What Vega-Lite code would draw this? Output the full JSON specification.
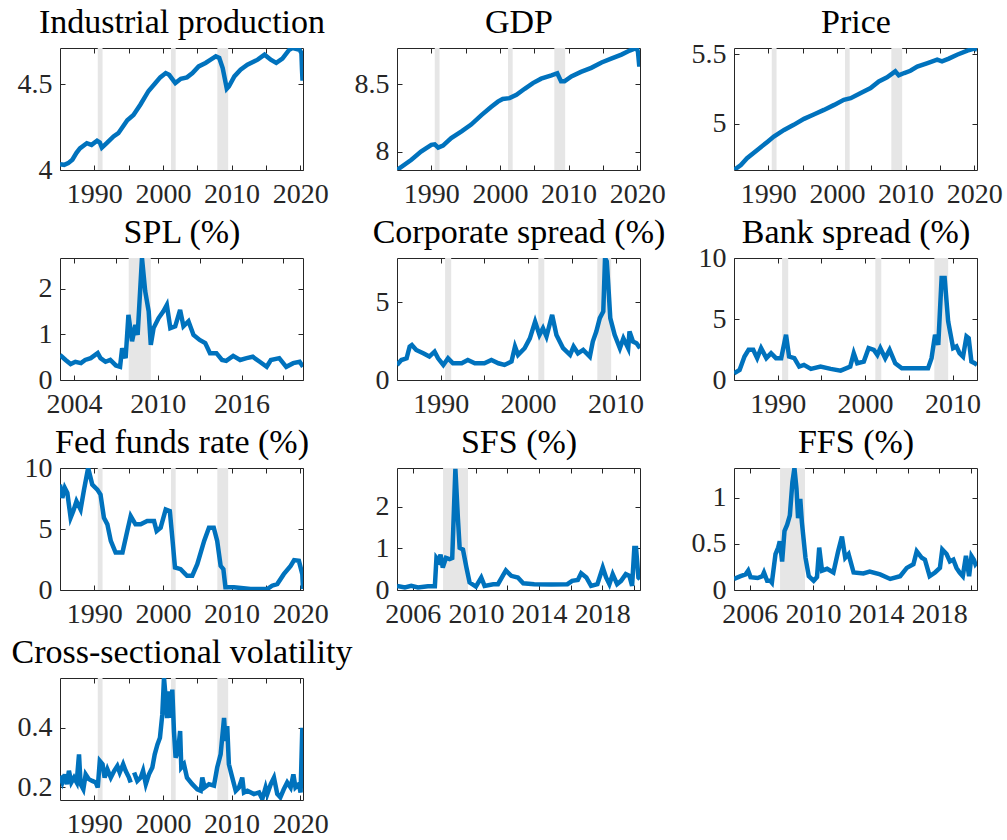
{
"$schema": "https://vega.github.io/schema/vega-lite/v6.json",
"background": "white",
"padding": {"left": 10, "top": 5, "right": 5, "bottom": 0},
"config": {
 "view": {"stroke": "#262626", "strokeWidth": 1},
 "axis": {"domain": false, "grid": false, "ticks": true, "tickSize": -5, "tickColor": "#262626", "tickWidth": 1, "labelFont": "Liberation Serif", "labelFontSize": 28, "labelColor": "#262626", "title": null, "labelFlush": false, "labelOverlap": false, "zindex": 1},
 "axisX": {"labelPadding": 15},
 "axisY": {"labelPadding": 13},
 "axisTop": {"titleFont": "Liberation Serif", "titleFontSize": 34, "titleFontWeight": "normal", "titleColor": "#000000", "titleBaseline": "alphabetic", "titlePadding": 15, "titleLimit": 1000},
 "line": {"color": "#0072BD", "strokeWidth": 4.5},
 "rect": {"color": "#E6E6E6"}
},
"datasets": {
 "rec": [{"start": 1990.5, "end": 1991.2}, {"start": 2001.17, "end": 2001.85}, {"start": 2007.92, "end": 2009.5}],
 "ip": [{"x":1985,"y":4.033},{"x":1985.6,"y":4.03},{"x":1986.2,"y":4.04},{"x":1986.8,"y":4.06},{"x":1987.4,"y":4.1},{"x":1987.9,"y":4.126},{"x":1988.9,"y":4.156},{"x":1989.6,"y":4.146},{"x":1990.4,"y":4.17},{"x":1990.8,"y":4.16},{"x":1991.1,"y":4.13},{"x":1991.8,"y":4.156},{"x":1992.8,"y":4.195},{"x":1993.5,"y":4.214},{"x":1994.8,"y":4.29},{"x":1995.7,"y":4.32},{"x":1996.7,"y":4.38},{"x":1997.9,"y":4.46},{"x":1998.9,"y":4.506},{"x":1999.6,"y":4.539},{"x":2000.4,"y":4.564},{"x":2000.9,"y":4.554},{"x":2001.8,"y":4.506},{"x":2002.6,"y":4.531},{"x":2003.5,"y":4.539},{"x":2004.3,"y":4.564},{"x":2005.2,"y":4.603},{"x":2006.2,"y":4.623},{"x":2006.95,"y":4.642},{"x":2007.7,"y":4.661},{"x":2008.2,"y":4.652},{"x":2008.7,"y":4.593},{"x":2009.3,"y":4.473},{"x":2009.6,"y":4.486},{"x":2010.4,"y":4.545},{"x":2011.3,"y":4.584},{"x":2012.3,"y":4.613},{"x":2013.8,"y":4.642},{"x":2014.8,"y":4.671},{"x":2015.7,"y":4.642},{"x":2016.5,"y":4.623},{"x":2017.4,"y":4.648},{"x":2018.4,"y":4.7},{"x":2018.9,"y":4.71},{"x":2019.9,"y":4.7},{"x":2020.17,"y":4.68},{"x":2020.25,"y":4.59},{"x":2020.33,"y":4.52},{"x":2020.4,"y":4.56}],
 "gdp": [{"x":1985,"y":7.864},{"x":1987.1,"y":7.94},{"x":1988.5,"y":8.0},{"x":1990.0,"y":8.05},{"x":1990.5,"y":8.054},{"x":1991.0,"y":8.03},{"x":1991.7,"y":8.045},{"x":1992.9,"y":8.1},{"x":1994.4,"y":8.15},{"x":1995.8,"y":8.2},{"x":1997.3,"y":8.27},{"x":1998.7,"y":8.33},{"x":1999.7,"y":8.37},{"x":2000.4,"y":8.39},{"x":2001.4,"y":8.396},{"x":2002.4,"y":8.42},{"x":2003.6,"y":8.465},{"x":2004.8,"y":8.507},{"x":2006.0,"y":8.54},{"x":2007.5,"y":8.564},{"x":2008.35,"y":8.58},{"x":2008.9,"y":8.52},{"x":2009.4,"y":8.52},{"x":2010.4,"y":8.557},{"x":2011.8,"y":8.59},{"x":2013.3,"y":8.62},{"x":2014.8,"y":8.66},{"x":2016.2,"y":8.688},{"x":2017.7,"y":8.718},{"x":2018.9,"y":8.748},{"x":2019.9,"y":8.767},{"x":2020.1,"y":8.74},{"x":2020.3,"y":8.63},{"x":2020.4,"y":8.69}],
 "price": [{"x":1985,"y":4.67},{"x":1986.0,"y":4.706},{"x":1986.9,"y":4.754},{"x":1988.4,"y":4.813},{"x":1989.9,"y":4.873},{"x":1990.8,"y":4.909},{"x":1992.3,"y":4.957},{"x":1993.7,"y":4.993},{"x":1995.2,"y":5.036},{"x":1996.7,"y":5.069},{"x":1998.1,"y":5.1},{"x":1999.6,"y":5.136},{"x":2001.0,"y":5.172},{"x":2002.0,"y":5.184},{"x":2003.4,"y":5.22},{"x":2004.9,"y":5.256},{"x":2006.1,"y":5.304},{"x":2007.3,"y":5.333},{"x":2008.5,"y":5.376},{"x":2009.0,"y":5.347},{"x":2009.8,"y":5.364},{"x":2010.7,"y":5.38},{"x":2011.7,"y":5.41},{"x":2013.2,"y":5.435},{"x":2014.6,"y":5.459},{"x":2015.3,"y":5.447},{"x":2016.3,"y":5.467},{"x":2017.5,"y":5.495},{"x":2019.0,"y":5.524},{"x":2020.0,"y":5.538},{"x":2020.4,"y":5.531}],
 "spl": [{"x":2003.0,"y":0.55},{"x":2003.4,"y":0.44},{"x":2003.76,"y":0.35},{"x":2004.1,"y":0.4},{"x":2004.5,"y":0.37},{"x":2004.8,"y":0.44},{"x":2005.2,"y":0.48},{"x":2005.7,"y":0.59},{"x":2005.9,"y":0.48},{"x":2006.26,"y":0.4},{"x":2006.6,"y":0.44},{"x":2007.0,"y":0.32},{"x":2007.3,"y":0.29},{"x":2007.45,"y":0.7},{"x":2007.7,"y":0.48},{"x":2007.9,"y":1.43},{"x":2008.16,"y":0.85},{"x":2008.4,"y":1.21},{"x":2008.56,"y":0.99},{"x":2008.87,"y":2.68},{"x":2009.1,"y":1.95},{"x":2009.35,"y":1.51},{"x":2009.5,"y":0.77},{"x":2009.7,"y":1.14},{"x":2010.06,"y":1.36},{"x":2010.4,"y":1.51},{"x":2010.65,"y":1.65},{"x":2010.9,"y":1.14},{"x":2011.25,"y":1.18},{"x":2011.6,"y":1.54},{"x":2011.84,"y":1.18},{"x":2012.2,"y":1.29},{"x":2012.56,"y":0.99},{"x":2013.0,"y":0.88},{"x":2013.4,"y":0.81},{"x":2013.74,"y":0.59},{"x":2014.2,"y":0.59},{"x":2014.6,"y":0.44},{"x":2014.9,"y":0.42},{"x":2015.4,"y":0.53},{"x":2015.9,"y":0.44},{"x":2016.36,"y":0.48},{"x":2016.8,"y":0.51},{"x":2017.3,"y":0.4},{"x":2017.8,"y":0.29},{"x":2018.1,"y":0.44},{"x":2018.7,"y":0.48},{"x":2019.2,"y":0.29},{"x":2019.7,"y":0.37},{"x":2020.16,"y":0.4},{"x":2020.4,"y":0.29}],
 "corp": [{"x":1985,"y":0.97},{"x":1985.5,"y":1.29},{"x":1986.1,"y":1.4},{"x":1986.45,"y":2.16},{"x":1986.7,"y":2.26},{"x":1987.2,"y":1.94},{"x":1988.0,"y":1.72},{"x":1988.7,"y":1.51},{"x":1989.3,"y":1.83},{"x":1989.7,"y":1.4},{"x":1990.3,"y":0.97},{"x":1990.84,"y":1.4},{"x":1991.4,"y":1.08},{"x":1992.4,"y":1.08},{"x":1993.1,"y":1.29},{"x":1993.9,"y":1.08},{"x":1995.0,"y":1.08},{"x":1995.8,"y":1.29},{"x":1996.6,"y":1.08},{"x":1997.3,"y":0.97},{"x":1998.1,"y":1.19},{"x":1998.5,"y":2.16},{"x":1998.85,"y":1.62},{"x":1999.6,"y":2.05},{"x":2000.2,"y":2.69},{"x":2000.8,"y":3.77},{"x":2001.3,"y":2.91},{"x":2001.7,"y":3.34},{"x":2002.1,"y":2.8},{"x":2002.75,"y":4.2},{"x":2003.24,"y":2.91},{"x":2004.0,"y":2.05},{"x":2004.8,"y":1.62},{"x":2005.2,"y":2.16},{"x":2005.7,"y":1.72},{"x":2006.3,"y":1.94},{"x":2007.06,"y":1.51},{"x":2007.4,"y":2.48},{"x":2007.8,"y":3.13},{"x":2008.2,"y":3.99},{"x":2008.6,"y":4.42},{"x":2008.8,"y":7.87},{"x":2009.0,"y":7.65},{"x":2009.16,"y":6.25},{"x":2009.4,"y":3.99},{"x":2009.9,"y":2.91},{"x":2010.5,"y":2.05},{"x":2010.9,"y":2.69},{"x":2011.45,"y":2.05},{"x":2011.6,"y":3.13},{"x":2012.0,"y":2.48},{"x":2012.4,"y":2.37},{"x":2012.8,"y":2.05}],
 "bank": [{"x":1985,"y":0.55},{"x":1985.64,"y":0.82},{"x":1986.2,"y":1.92},{"x":1986.67,"y":2.47},{"x":1987.2,"y":2.47},{"x":1987.65,"y":1.79},{"x":1988.1,"y":2.61},{"x":1988.7,"y":1.79},{"x":1989.24,"y":2.2},{"x":1989.8,"y":1.79},{"x":1990.4,"y":1.79},{"x":1990.95,"y":3.71},{"x":1991.3,"y":1.92},{"x":1991.9,"y":1.79},{"x":1992.46,"y":1.1},{"x":1993.0,"y":1.24},{"x":1993.8,"y":0.91},{"x":1994.9,"y":1.1},{"x":1996.06,"y":0.91},{"x":1997.2,"y":0.77},{"x":1998.3,"y":1.1},{"x":1998.7,"y":2.2},{"x":1999.1,"y":1.37},{"x":1999.85,"y":1.51},{"x":2000.4,"y":2.61},{"x":2001.0,"y":2.47},{"x":2001.4,"y":2.06},{"x":2001.74,"y":2.61},{"x":2002.3,"y":1.79},{"x":2002.8,"y":2.47},{"x":2003.45,"y":1.37},{"x":2004.2,"y":0.96},{"x":2005.15,"y":0.96},{"x":2006.3,"y":0.96},{"x":2007.2,"y":0.96},{"x":2007.6,"y":1.79},{"x":2008.0,"y":3.71},{"x":2008.37,"y":2.88},{"x":2008.75,"y":8.36},{"x":2009.1,"y":8.36},{"x":2009.5,"y":4.81},{"x":2010.07,"y":2.61},{"x":2010.45,"y":2.75},{"x":2010.8,"y":2.2},{"x":2011.2,"y":1.92},{"x":2011.6,"y":3.57},{"x":2011.85,"y":3.43},{"x":2012.16,"y":1.51},{"x":2012.54,"y":1.37},{"x":2012.8,"y":1.23}],
 "ffr": [{"x":1985,"y":8.64},{"x":1985.34,"y":7.55},{"x":1985.7,"y":8.37},{"x":1986.07,"y":7.96},{"x":1986.55,"y":5.92},{"x":1986.94,"y":6.47},{"x":1987.4,"y":7.28},{"x":1988.0,"y":6.6},{"x":1988.5,"y":8.23},{"x":1989.1,"y":10.0},{"x":1989.7,"y":8.64},{"x":1990.44,"y":8.23},{"x":1990.9,"y":7.83},{"x":1991.4,"y":5.92},{"x":1991.9,"y":5.38},{"x":1992.4,"y":4.02},{"x":1993.1,"y":3.07},{"x":1994.1,"y":3.07},{"x":1994.8,"y":4.84},{"x":1995.3,"y":6.06},{"x":1996.0,"y":5.38},{"x":1996.75,"y":5.38},{"x":1997.7,"y":5.65},{"x":1998.7,"y":5.65},{"x":1999.08,"y":4.84},{"x":1999.66,"y":5.11},{"x":2000.4,"y":6.6},{"x":2001.0,"y":6.47},{"x":2001.36,"y":4.29},{"x":2001.75,"y":1.85},{"x":2002.57,"y":1.71},{"x":2003.5,"y":1.17},{"x":2004.27,"y":1.17},{"x":2005.0,"y":2.12},{"x":2006.0,"y":4.02},{"x":2006.7,"y":5.11},{"x":2007.4,"y":5.11},{"x":2007.9,"y":4.02},{"x":2008.4,"y":1.98},{"x":2008.8,"y":1.71},{"x":2009.1,"y":0.22},{"x":2010.34,"y":0.22},{"x":2012.77,"y":0.08},{"x":2015.2,"y":0.08},{"x":2015.9,"y":0.35},{"x":2016.65,"y":0.49},{"x":2017.6,"y":1.3},{"x":2018.6,"y":1.98},{"x":2019.1,"y":2.45},{"x":2019.8,"y":2.39},{"x":2020.3,"y":1.3},{"x":2020.4,"y":0.08}],
 "sfs": [{"x":2005,"y":0.1},{"x":2005.5,"y":0.06},{"x":2005.9,"y":0.1},{"x":2006.33,"y":0.06},{"x":2006.96,"y":0.09},{"x":2007.4,"y":0.09},{"x":2007.5,"y":0.77},{"x":2007.64,"y":0.7},{"x":2007.76,"y":0.85},{"x":2007.9,"y":0.54},{"x":2008.1,"y":0.77},{"x":2008.33,"y":0.74},{"x":2008.5,"y":0.77},{"x":2008.7,"y":2.91},{"x":2008.86,"y":1.72},{"x":2008.97,"y":1.01},{"x":2009.18,"y":0.97},{"x":2009.4,"y":0.54},{"x":2009.6,"y":0.18},{"x":2010.0,"y":0.08},{"x":2010.34,"y":0.3},{"x":2010.55,"y":0.1},{"x":2011.1,"y":0.14},{"x":2011.4,"y":0.14},{"x":2011.7,"y":0.34},{"x":2011.9,"y":0.47},{"x":2012.24,"y":0.34},{"x":2012.66,"y":0.3},{"x":2013.0,"y":0.16},{"x":2013.7,"y":0.14},{"x":2014.77,"y":0.13},{"x":2015.8,"y":0.14},{"x":2016.1,"y":0.22},{"x":2016.46,"y":0.24},{"x":2016.67,"y":0.4},{"x":2017.0,"y":0.3},{"x":2017.3,"y":0.1},{"x":2017.7,"y":0.14},{"x":2018.04,"y":0.54},{"x":2018.25,"y":0.3},{"x":2018.46,"y":0.14},{"x":2018.67,"y":0.38},{"x":2018.95,"y":0.14},{"x":2019.2,"y":0.22},{"x":2019.5,"y":0.38},{"x":2019.73,"y":0.34},{"x":2019.9,"y":0.1},{"x":2020.04,"y":1.01},{"x":2020.15,"y":1.01},{"x":2020.3,"y":0.3},{"x":2020.4,"y":0.26}],
 "ffs": [{"x":2005,"y":0.12},{"x":2005.42,"y":0.15},{"x":2005.74,"y":0.17},{"x":2005.9,"y":0.21},{"x":2006.05,"y":0.14},{"x":2006.5,"y":0.13},{"x":2006.8,"y":0.15},{"x":2006.9,"y":0.19},{"x":2007.1,"y":0.1},{"x":2007.3,"y":0.1},{"x":2007.4,"y":0.08},{"x":2007.63,"y":0.39},{"x":2007.8,"y":0.46},{"x":2007.9,"y":0.53},{"x":2008.05,"y":0.31},{"x":2008.2,"y":0.64},{"x":2008.37,"y":0.71},{"x":2008.54,"y":0.81},{"x":2008.7,"y":1.17},{"x":2008.83,"y":1.325},{"x":2008.96,"y":1.1},{"x":2009.06,"y":0.78},{"x":2009.2,"y":0.99},{"x":2009.3,"y":0.74},{"x":2009.53,"y":0.35},{"x":2009.74,"y":0.15},{"x":2010.05,"y":0.1},{"x":2010.26,"y":0.14},{"x":2010.4,"y":0.46},{"x":2010.58,"y":0.21},{"x":2010.9,"y":0.23},{"x":2011.3,"y":0.19},{"x":2011.6,"y":0.42},{"x":2011.84,"y":0.58},{"x":2012.05,"y":0.35},{"x":2012.26,"y":0.39},{"x":2012.58,"y":0.19},{"x":2013.2,"y":0.18},{"x":2013.6,"y":0.2},{"x":2014.26,"y":0.17},{"x":2014.9,"y":0.12},{"x":2015.53,"y":0.15},{"x":2015.95,"y":0.24},{"x":2016.37,"y":0.28},{"x":2016.58,"y":0.42},{"x":2016.9,"y":0.35},{"x":2017.1,"y":0.33},{"x":2017.4,"y":0.15},{"x":2017.74,"y":0.19},{"x":2018.05,"y":0.24},{"x":2018.2,"y":0.44},{"x":2018.47,"y":0.39},{"x":2018.68,"y":0.31},{"x":2018.9,"y":0.33},{"x":2019.1,"y":0.24},{"x":2019.3,"y":0.19},{"x":2019.5,"y":0.15},{"x":2019.7,"y":0.37},{"x":2019.9,"y":0.15},{"x":2020.05,"y":0.37},{"x":2020.2,"y":0.33},{"x":2020.3,"y":0.28},{"x":2020.4,"y":0.3}],
 "csv": [{"x":1985,"y":0.239},{"x":1985.34,"y":0.217},{"x":1985.7,"y":0.244},{"x":1986.0,"y":0.211},{"x":1986.3,"y":0.256},{"x":1986.65,"y":0.217},{"x":1987.04,"y":0.233},{"x":1987.43,"y":0.217},{"x":1987.77,"y":0.311},{"x":1988.0,"y":0.211},{"x":1988.4,"y":0.194},{"x":1988.74,"y":0.244},{"x":1989.2,"y":0.228},{"x":1989.7,"y":0.222},{"x":1990.2,"y":0.217},{"x":1990.5,"y":0.2},{"x":1990.8,"y":0.289},{"x":1991.2,"y":0.278},{"x":1991.5,"y":0.233},{"x":1991.9,"y":0.261},{"x":1992.4,"y":0.233},{"x":1992.9,"y":0.256},{"x":1993.35,"y":0.272},{"x":1993.7,"y":0.25},{"x":1994.2,"y":0.278},{"x":1994.56,"y":0.256},{"x":1995.05,"y":0.233},{"x":1995.3,"y":0.217},{"x":1995.55,"y":null},{"x":1995.8,"y":0.25},{"x":1996.26,"y":0.222},{"x":1996.75,"y":0.233},{"x":1997.1,"y":0.256},{"x":1997.5,"y":0.211},{"x":1997.96,"y":0.244},{"x":1998.45,"y":0.267},{"x":1998.8,"y":0.311},{"x":1999.2,"y":0.344},{"x":1999.56,"y":0.367},{"x":1999.9,"y":0.444},{"x":2000.15,"y":0.567},{"x":2000.4,"y":0.5},{"x":2000.6,"y":0.433},{"x":2000.87,"y":0.522},{"x":2001.1,"y":0.433},{"x":2001.36,"y":0.528},{"x":2001.6,"y":0.389},{"x":2001.84,"y":0.3},{"x":2002.2,"y":0.322},{"x":2002.5,"y":0.389},{"x":2002.67,"y":0.267},{"x":2003.06,"y":0.278},{"x":2003.5,"y":0.233},{"x":2004.27,"y":0.211},{"x":2005.0,"y":0.194},{"x":2005.5,"y":0.189},{"x":2005.73,"y":0.233},{"x":2006.07,"y":0.2},{"x":2006.7,"y":0.211},{"x":2007.43,"y":0.206},{"x":2007.9,"y":0.267},{"x":2008.4,"y":0.311},{"x":2008.9,"y":0.433},{"x":2009.1,"y":0.356},{"x":2009.36,"y":0.406},{"x":2009.6,"y":0.278},{"x":2010.1,"y":0.233},{"x":2010.6,"y":0.189},{"x":2011.07,"y":0.2},{"x":2011.55,"y":0.233},{"x":2011.8,"y":0.183},{"x":2012.3,"y":0.189},{"x":2013.25,"y":0.178},{"x":2014.0,"y":0.183},{"x":2014.47,"y":0.161},{"x":2014.95,"y":0.2},{"x":2015.2,"y":0.178},{"x":2015.7,"y":0.211},{"x":2016.17,"y":0.233},{"x":2016.65,"y":0.178},{"x":2017.1,"y":0.167},{"x":2017.6,"y":0.194},{"x":2018.1,"y":0.217},{"x":2018.6,"y":0.2},{"x":2019.0,"y":0.244},{"x":2019.3,"y":0.2},{"x":2019.8,"y":0.211},{"x":2020.05,"y":0.183},{"x":2020.3,"y":0.4},{"x":2020.4,"y":0.3}]
},
"columns": 3,
"bounds": "flush",
"spacing": {"row": 88, "column": 94},
"concat": [
 {"width": 243, "height": 122,
  "layer": [
   {"data": {"name": "rec"}, "mark": {"type": "rect", "clip": true}, "encoding": {"x": {"field": "start", "type": "quantitative", "scale": {"domain": [1985, 2020.4], "nice": false, "zero": false}, "axis": {"orient": "top", "labels": false, "values": [1990,1995,2000,2005,2010,2015,2020], "title": "Industrial production"}}, "x2": {"field": "end"}}},
   {"data": {"name": "ip"}, "mark": {"type": "line", "clip": true}, "encoding": {"x": {"field": "x", "type": "quantitative", "scale": {"domain": [1985, 2020.4], "nice": false, "zero": false}, "axis": {"values": [1990,1995,2000,2005,2010,2015,2020], "format": "d", "labelExpr": "datum.value % 10 == 0 ? datum.label : ''"}}, "y": {"field": "y", "type": "quantitative", "scale": {"domain": [4, 4.71], "nice": false, "zero": false}, "axis": {"values": [4, 4.5], "format": ".1~f"}}}},
   {"data": {"name": "ip"}, "mark": {"type": "line", "opacity": 0, "clip": true}, "encoding": {"x": {"field": "x", "type": "quantitative", "scale": {"domain": [1985, 2020.4], "nice": false, "zero": false}, "axis": null}, "y": {"field": "y", "type": "quantitative", "scale": {"domain": [4, 4.71], "nice": false, "zero": false}, "axis": {"orient": "right", "labels": false, "values": [4, 4.5]}}}}
  ],
  "resolve": {"axis": {"x": "independent", "y": "independent"}}},
 {"width": 243, "height": 122,
  "layer": [
   {"data": {"name": "rec"}, "mark": {"type": "rect", "clip": true}, "encoding": {"x": {"field": "start", "type": "quantitative", "scale": {"domain": [1985, 2020.4], "nice": false, "zero": false}, "axis": {"orient": "top", "labels": false, "values": [1990,1995,2000,2005,2010,2015,2020], "title": "GDP"}}, "x2": {"field": "end"}}},
   {"data": {"name": "gdp"}, "mark": {"type": "line", "clip": true}, "encoding": {"x": {"field": "x", "type": "quantitative", "scale": {"domain": [1985, 2020.4], "nice": false, "zero": false}, "axis": {"values": [1990,1995,2000,2005,2010,2015,2020], "format": "d", "labelExpr": "datum.value % 10 == 0 ? datum.label : ''"}}, "y": {"field": "y", "type": "quantitative", "scale": {"domain": [7.864, 8.767], "nice": false, "zero": false}, "axis": {"values": [8, 8.5], "format": ".1~f"}}}},
   {"data": {"name": "gdp"}, "mark": {"type": "line", "opacity": 0, "clip": true}, "encoding": {"x": {"field": "x", "type": "quantitative", "scale": {"domain": [1985, 2020.4], "nice": false, "zero": false}, "axis": null}, "y": {"field": "y", "type": "quantitative", "scale": {"domain": [7.864, 8.767], "nice": false, "zero": false}, "axis": {"orient": "right", "labels": false, "values": [8, 8.5]}}}}
  ],
  "resolve": {"axis": {"x": "independent", "y": "independent"}}},
 {"width": 243, "height": 122,
  "layer": [
   {"data": {"name": "rec"}, "mark": {"type": "rect", "clip": true}, "encoding": {"x": {"field": "start", "type": "quantitative", "scale": {"domain": [1985, 2020.4], "nice": false, "zero": false}, "axis": {"orient": "top", "labels": false, "values": [1990,1995,2000,2005,2010,2015,2020], "title": "Price"}}, "x2": {"field": "end"}}},
   {"data": {"name": "price"}, "mark": {"type": "line", "clip": true}, "encoding": {"x": {"field": "x", "type": "quantitative", "scale": {"domain": [1985, 2020.4], "nice": false, "zero": false}, "axis": {"values": [1990,1995,2000,2005,2010,2015,2020], "format": "d", "labelExpr": "datum.value % 10 == 0 ? datum.label : ''"}}, "y": {"field": "y", "type": "quantitative", "scale": {"domain": [4.67, 5.543], "nice": false, "zero": false}, "axis": {"values": [5, 5.5], "format": ".1~f"}}}},
   {"data": {"name": "price"}, "mark": {"type": "line", "opacity": 0, "clip": true}, "encoding": {"x": {"field": "x", "type": "quantitative", "scale": {"domain": [1985, 2020.4], "nice": false, "zero": false}, "axis": null}, "y": {"field": "y", "type": "quantitative", "scale": {"domain": [4.67, 5.543], "nice": false, "zero": false}, "axis": {"orient": "right", "labels": false, "values": [5, 5.5]}}}}
  ],
  "resolve": {"axis": {"x": "independent", "y": "independent"}}},
 {"width": 243, "height": 122,
  "layer": [
   {"data": {"name": "rec"}, "mark": {"type": "rect", "clip": true}, "encoding": {"x": {"field": "start", "type": "quantitative", "scale": {"domain": [2003, 2020.4], "nice": false, "zero": false}, "axis": {"orient": "top", "labels": false, "values": [2004,2007,2010,2013,2016,2019], "title": "SPL (%)"}}, "x2": {"field": "end"}}},
   {"data": {"name": "spl"}, "mark": {"type": "line", "clip": true}, "encoding": {"x": {"field": "x", "type": "quantitative", "scale": {"domain": [2003, 2020.4], "nice": false, "zero": false}, "axis": {"values": [2004,2007,2010,2013,2016,2019], "format": "d", "labelExpr": "datum.value % 6 == 0 ? datum.label : ''"}}, "y": {"field": "y", "type": "quantitative", "scale": {"domain": [0, 2.68], "nice": false, "zero": false}, "axis": {"values": [0, 1, 2], "format": ".1~f"}}}},
   {"data": {"name": "spl"}, "mark": {"type": "line", "opacity": 0, "clip": true}, "encoding": {"x": {"field": "x", "type": "quantitative", "scale": {"domain": [2003, 2020.4], "nice": false, "zero": false}, "axis": null}, "y": {"field": "y", "type": "quantitative", "scale": {"domain": [0, 2.68], "nice": false, "zero": false}, "axis": {"orient": "right", "labels": false, "values": [0, 1, 2]}}}}
  ],
  "resolve": {"axis": {"x": "independent", "y": "independent"}}},
 {"width": 243, "height": 122,
  "layer": [
   {"data": {"name": "rec"}, "mark": {"type": "rect", "clip": true}, "encoding": {"x": {"field": "start", "type": "quantitative", "scale": {"domain": [1985, 2012.8], "nice": false, "zero": false}, "axis": {"orient": "top", "labels": false, "values": [1990,1995,2000,2005,2010], "title": "Corporate spread (%)"}}, "x2": {"field": "end"}}},
   {"data": {"name": "corp"}, "mark": {"type": "line", "clip": true}, "encoding": {"x": {"field": "x", "type": "quantitative", "scale": {"domain": [1985, 2012.8], "nice": false, "zero": false}, "axis": {"values": [1990,1995,2000,2005,2010], "format": "d", "labelExpr": "datum.value % 10 == 0 ? datum.label : ''"}}, "y": {"field": "y", "type": "quantitative", "scale": {"domain": [0, 7.87], "nice": false, "zero": false}, "axis": {"values": [0, 5], "format": ".1~f"}}}},
   {"data": {"name": "corp"}, "mark": {"type": "line", "opacity": 0, "clip": true}, "encoding": {"x": {"field": "x", "type": "quantitative", "scale": {"domain": [1985, 2012.8], "nice": false, "zero": false}, "axis": null}, "y": {"field": "y", "type": "quantitative", "scale": {"domain": [0, 7.87], "nice": false, "zero": false}, "axis": {"orient": "right", "labels": false, "values": [0, 5]}}}}
  ],
  "resolve": {"axis": {"x": "independent", "y": "independent"}}},
 {"width": 243, "height": 122,
  "layer": [
   {"data": {"name": "rec"}, "mark": {"type": "rect", "clip": true}, "encoding": {"x": {"field": "start", "type": "quantitative", "scale": {"domain": [1985, 2012.8], "nice": false, "zero": false}, "axis": {"orient": "top", "labels": false, "values": [1990,1995,2000,2005,2010], "title": "Bank spread (%)"}}, "x2": {"field": "end"}}},
   {"data": {"name": "bank"}, "mark": {"type": "line", "clip": true}, "encoding": {"x": {"field": "x", "type": "quantitative", "scale": {"domain": [1985, 2012.8], "nice": false, "zero": false}, "axis": {"values": [1990,1995,2000,2005,2010], "format": "d", "labelExpr": "datum.value % 10 == 0 ? datum.label : ''"}}, "y": {"field": "y", "type": "quantitative", "scale": {"domain": [0, 10], "nice": false, "zero": false}, "axis": {"values": [0, 5, 10], "format": ".1~f"}}}},
   {"data": {"name": "bank"}, "mark": {"type": "line", "opacity": 0, "clip": true}, "encoding": {"x": {"field": "x", "type": "quantitative", "scale": {"domain": [1985, 2012.8], "nice": false, "zero": false}, "axis": null}, "y": {"field": "y", "type": "quantitative", "scale": {"domain": [0, 10], "nice": false, "zero": false}, "axis": {"orient": "right", "labels": false, "values": [0, 5, 10]}}}}
  ],
  "resolve": {"axis": {"x": "independent", "y": "independent"}}},
 {"width": 243, "height": 122,
  "layer": [
   {"data": {"name": "rec"}, "mark": {"type": "rect", "clip": true}, "encoding": {"x": {"field": "start", "type": "quantitative", "scale": {"domain": [1985, 2020.4], "nice": false, "zero": false}, "axis": {"orient": "top", "labels": false, "values": [1990,1995,2000,2005,2010,2015,2020], "title": "Fed funds rate (%)"}}, "x2": {"field": "end"}}},
   {"data": {"name": "ffr"}, "mark": {"type": "line", "clip": true}, "encoding": {"x": {"field": "x", "type": "quantitative", "scale": {"domain": [1985, 2020.4], "nice": false, "zero": false}, "axis": {"values": [1990,1995,2000,2005,2010,2015,2020], "format": "d", "labelExpr": "datum.value % 10 == 0 ? datum.label : ''"}}, "y": {"field": "y", "type": "quantitative", "scale": {"domain": [0, 10], "nice": false, "zero": false}, "axis": {"values": [0, 5, 10], "format": ".1~f"}}}},
   {"data": {"name": "ffr"}, "mark": {"type": "line", "opacity": 0, "clip": true}, "encoding": {"x": {"field": "x", "type": "quantitative", "scale": {"domain": [1985, 2020.4], "nice": false, "zero": false}, "axis": null}, "y": {"field": "y", "type": "quantitative", "scale": {"domain": [0, 10], "nice": false, "zero": false}, "axis": {"orient": "right", "labels": false, "values": [0, 5, 10]}}}}
  ],
  "resolve": {"axis": {"x": "independent", "y": "independent"}}},
 {"width": 243, "height": 122,
  "layer": [
   {"data": {"name": "rec"}, "mark": {"type": "rect", "clip": true}, "encoding": {"x": {"field": "start", "type": "quantitative", "scale": {"domain": [2005, 2020.4], "nice": false, "zero": false}, "axis": {"orient": "top", "labels": false, "values": [2006,2008,2010,2012,2014,2016,2018,2020], "title": "SFS (%)"}}, "x2": {"field": "end"}}},
   {"data": {"name": "sfs"}, "mark": {"type": "line", "clip": true}, "encoding": {"x": {"field": "x", "type": "quantitative", "scale": {"domain": [2005, 2020.4], "nice": false, "zero": false}, "axis": {"values": [2006,2008,2010,2012,2014,2016,2018,2020], "format": "d", "labelExpr": "datum.value % 4 == 2 ? datum.label : ''"}}, "y": {"field": "y", "type": "quantitative", "scale": {"domain": [0, 2.93], "nice": false, "zero": false}, "axis": {"values": [0, 1, 2], "format": ".1~f"}}}},
   {"data": {"name": "sfs"}, "mark": {"type": "line", "opacity": 0, "clip": true}, "encoding": {"x": {"field": "x", "type": "quantitative", "scale": {"domain": [2005, 2020.4], "nice": false, "zero": false}, "axis": null}, "y": {"field": "y", "type": "quantitative", "scale": {"domain": [0, 2.93], "nice": false, "zero": false}, "axis": {"orient": "right", "labels": false, "values": [0, 1, 2]}}}}
  ],
  "resolve": {"axis": {"x": "independent", "y": "independent"}}},
 {"width": 243, "height": 122,
  "layer": [
   {"data": {"name": "rec"}, "mark": {"type": "rect", "clip": true}, "encoding": {"x": {"field": "start", "type": "quantitative", "scale": {"domain": [2005, 2020.4], "nice": false, "zero": false}, "axis": {"orient": "top", "labels": false, "values": [2006,2008,2010,2012,2014,2016,2018,2020], "title": "FFS (%)"}}, "x2": {"field": "end"}}},
   {"data": {"name": "ffs"}, "mark": {"type": "line", "clip": true}, "encoding": {"x": {"field": "x", "type": "quantitative", "scale": {"domain": [2005, 2020.4], "nice": false, "zero": false}, "axis": {"values": [2006,2008,2010,2012,2014,2016,2018,2020], "format": "d", "labelExpr": "datum.value % 4 == 2 ? datum.label : ''"}}, "y": {"field": "y", "type": "quantitative", "scale": {"domain": [0, 1.325], "nice": false, "zero": false}, "axis": {"values": [0, 0.5, 1], "format": ".1~f"}}}},
   {"data": {"name": "ffs"}, "mark": {"type": "line", "opacity": 0, "clip": true}, "encoding": {"x": {"field": "x", "type": "quantitative", "scale": {"domain": [2005, 2020.4], "nice": false, "zero": false}, "axis": null}, "y": {"field": "y", "type": "quantitative", "scale": {"domain": [0, 1.325], "nice": false, "zero": false}, "axis": {"orient": "right", "labels": false, "values": [0, 0.5, 1]}}}}
  ],
  "resolve": {"axis": {"x": "independent", "y": "independent"}}},
 {"width": 243, "height": 122,
  "layer": [
   {"data": {"name": "rec"}, "mark": {"type": "rect", "clip": true}, "encoding": {"x": {"field": "start", "type": "quantitative", "scale": {"domain": [1985, 2020.4], "nice": false, "zero": false}, "axis": {"orient": "top", "labels": false, "values": [1990,1995,2000,2005,2010,2015,2020], "title": "Cross-sectional volatility"}}, "x2": {"field": "end"}}},
   {"data": {"name": "csv"}, "mark": {"type": "line", "clip": true, "invalid": "break-paths-show-domains"}, "encoding": {"x": {"field": "x", "type": "quantitative", "scale": {"domain": [1985, 2020.4], "nice": false, "zero": false}, "axis": {"values": [1990,1995,2000,2005,2010,2015,2020], "format": "d", "labelExpr": "datum.value % 10 == 0 ? datum.label : ''"}}, "y": {"field": "y", "type": "quantitative", "scale": {"domain": [0.158, 0.567], "nice": false, "zero": false}, "axis": {"values": [0.2, 0.4], "format": ".1~f"}}}},
   {"data": {"name": "csv"}, "mark": {"type": "line", "opacity": 0, "clip": true}, "encoding": {"x": {"field": "x", "type": "quantitative", "scale": {"domain": [1985, 2020.4], "nice": false, "zero": false}, "axis": null}, "y": {"field": "y", "type": "quantitative", "scale": {"domain": [0.158, 0.567], "nice": false, "zero": false}, "axis": {"orient": "right", "labels": false, "values": [0.2, 0.4]}}}}
  ],
  "resolve": {"axis": {"x": "independent", "y": "independent"}}}
]
}
